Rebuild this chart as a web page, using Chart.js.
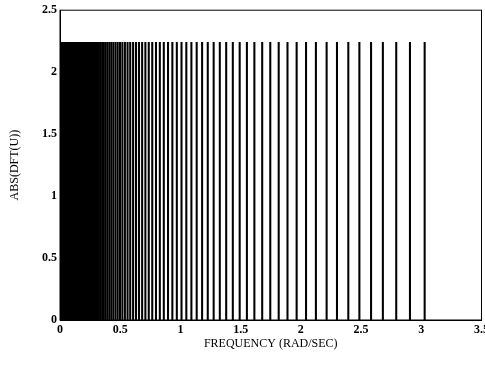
<!DOCTYPE html>
<html>
<head>
<meta charset="utf-8">
<script src="https://cdn.jsdelivr.net/npm/chart.js@4/dist/chart.umd.min.js"></script>
<style>
  html, body { margin: 0; padding: 0; background: #fff; overflow: hidden; }
</style>
</head>
<body>
<canvas id="dftChart" width="492" height="366"></canvas>
<script>
// frequencies (rad/sec) of the spectral lines
var freqs = [
    0.004, 0.012, 0.020, 0.028, 0.036, 0.044, 0.052, 0.060, 0.068, 0.076,
    0.084, 0.092, 0.100, 0.104, 0.108, 0.112, 0.117, 0.121, 0.126, 0.131,
    0.136, 0.142, 0.147, 0.153, 0.160, 0.166, 0.172, 0.179, 0.187, 0.194,
    0.202, 0.210, 0.218, 0.227, 0.236, 0.245, 0.255, 0.266, 0.276, 0.287,
    0.299, 0.311, 0.323, 0.336, 0.350, 0.364, 0.379, 0.394, 0.410, 0.426,
    0.443, 0.461, 0.479, 0.498, 0.518, 0.539, 0.561, 0.583, 0.607, 0.631,
    0.656, 0.682, 0.709, 0.737, 0.766, 0.797, 0.829, 0.862, 0.897, 0.933,
    0.970, 1.009, 1.049, 1.091, 1.135, 1.180, 1.227, 1.276, 1.327, 1.380,
    1.435, 1.492, 1.552, 1.614, 1.679, 1.746, 1.816, 1.889, 1.965, 2.043,
    2.125, 2.214, 2.300, 2.394, 2.486, 2.583, 2.681, 2.792, 2.906, 3.028
];
// every line reaches the same magnitude
var magnitude = 2.24;
var xTicks = [0, 0.5, 1, 1.5, 2, 2.5, 3, 3.5];
var yTicks = [0, 0.5, 1, 1.5, 2, 2.5];

var points = freqs.map(function (f) { return { x: f, y: magnitude }; });

var frame = {
    id: 'frame',
    afterDraw: function (chart) {
        var a = chart.chartArea, ctx = chart.ctx;
        ctx.save();
        ctx.strokeStyle = '#000';
        ctx.lineWidth = 1;
        ctx.strokeRect(a.left, a.top, a.right - a.left, a.bottom - a.top);
        ctx.restore();
    }
};

var serif = 'Liberation Serif';
var plain = function (v) { return String(v); };

var dftChart = new Chart(document.getElementById('dftChart').getContext('2d'), {
    type: 'bar',
    data: {
        datasets: [{
            label: 'ABS(DFT(U))',
            data: points,
            backgroundColor: '#000',
            borderWidth: 0,
            barThickness: 1.4
        }]
    },
    options: {
        responsive: false,
        animation: false,
        layout: { padding: { top: 9, left: 0, right: 0, bottom: 0 } },
        plugins: {
            legend: { display: false },
            tooltip: { enabled: false }
        },
        scales: {
            x: {
                type: 'linear',
                min: 0,
                max: 3.5,
                offset: false,
                grid: { display: false, drawTicks: false, offset: false },
                border: { display: true, color: '#000', width: 1 },
                afterBuildTicks: function (s) { s.ticks = xTicks.map(function (v) { return { value: v }; }); },
                ticks: {
                    color: '#000',
                    padding: 3,
                    maxRotation: 0,
                    callback: plain,
                    font: { family: serif, size: 12, weight: 'bold' }
                },
                title: {
                    display: true,
                    text: 'FREQUENCY (RAD/SEC)',
                    color: '#000',
                    font: { family: serif, size: 12 },
                    padding: { top: 4, bottom: 15 }
                },
                afterFit: function (s) { s.height = 46; }
            },
            y: {
                min: 0,
                max: 2.5,
                grid: { display: false, drawTicks: false },
                border: { display: true, color: '#000', width: 1 },
                afterBuildTicks: function (s) { s.ticks = yTicks.map(function (v) { return { value: v }; }); },
                ticks: {
                    color: '#000',
                    padding: 3,
                    callback: plain,
                    font: { family: serif, size: 12, weight: 'bold' }
                },
                title: {
                    display: true,
                    text: 'ABS(DFT(U))',
                    color: '#000',
                    font: { family: serif, size: 12 },
                    padding: { top: 8, bottom: 0 }
                },
                afterFit: function (s) { s.width = 60; }
            }
        }
    },
    plugins: [frame]
});
</script>
</body>
</html>
